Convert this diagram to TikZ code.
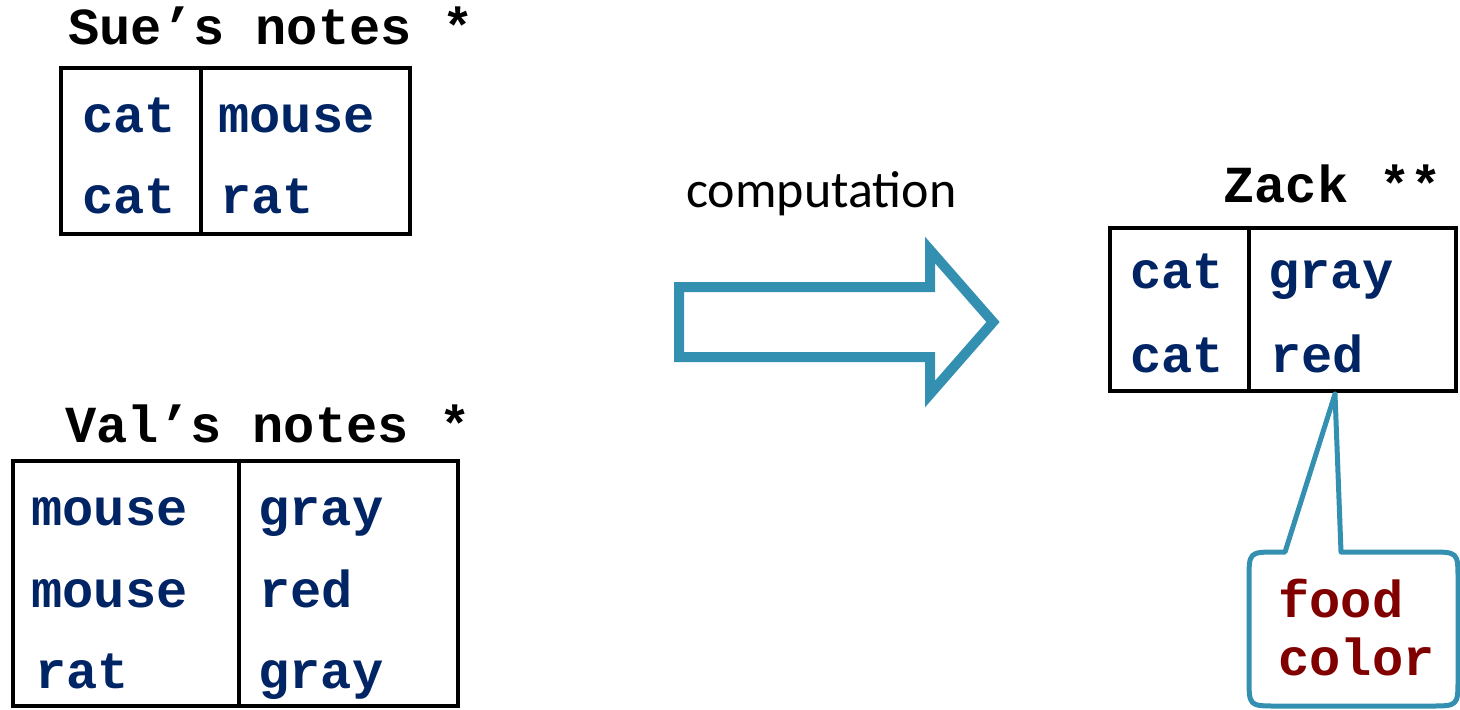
\documentclass[tikz,border=0pt]{standalone}
\usepackage{fontspec}
\newfontfamily\monob{Liberation Mono}[BoldFont=* Bold]
\newfontfamily\calib{Carlito}
\definecolor{cellblue}{RGB}{0,36,100}
\definecolor{notered}{RGB}{128,0,0}
\definecolor{flowteal}{RGB}{52,144,176}
\tikzset{
  title/.style={anchor=base west, inner sep=0pt, font=\monob\bfseries\fontsize{26}{26}\selectfont, text=black},
  cell/.style={anchor=base west, inner sep=0pt, font=\monob\bfseries\fontsize{26}{26}\selectfont, text=cellblue},
  note/.style={anchor=base west, inner sep=0pt, font=\monob\bfseries\fontsize{26}{26}\selectfont, text=notered},
  label/.style={anchor=base west, inner sep=0pt, font=\calib\fontsize{26}{26}\selectfont, text=black},
  grid/.style={draw=black, line width=2.4pt, line join=miter},
  bigarrow/.style={draw=flowteal, line width=5pt, line join=miter, miter limit=10},
  callout/.style={draw=flowteal, line width=2.5pt, line join=round},
}
\begin{document}
\begin{tikzpicture}[x=0.5pt, y=-0.5pt]
\useasboundingbox (0,0) rectangle (1460,709);

% Sue's notes
\node[title] (suet) at (68,44) {Sue’s notes *};
\draw[grid] (61,68) rectangle (410,234);
\draw[grid] (201,68) -- (201,234);
\node[cell] (s11) at (82,132) {cat};
\node[cell] (s12) at (218,132) {mouse};
\node[cell] (s21) at (82,213) {cat};
\node[cell] (s22) at (220,213) {rat};

% Val's notes
\node[title] (valt) at (65,442) {Val’s notes *};
\draw[grid] (13,461) rectangle (458,706);
\draw[grid] (239,461) -- (239,706);
\node[cell] (v11) at (31,525) {mouse};
\node[cell] (v12) at (258,525) {gray};
\node[cell] (v21) at (31,607) {mouse};
\node[cell] (v22) at (259,607) {red};
\node[cell] (v31) at (35,688) {rat};
\node[cell] (v32) at (258,688) {gray};

% computation arrow
\node[label] (comp) at (686,207) {computation};
\draw[bigarrow] (679,287) -- (930,287) -- (930,250) -- (993,322)
  -- (930,394) -- (930,357) -- (679,357) -- cycle;

% Zack
\node[title] (zackt) at (1223,202) {Zack **};
\draw[grid] (1110,228) rectangle (1456,391);
\draw[grid] (1249,228) -- (1249,391);
\node[cell] (z11) at (1130,288) {cat};
\node[cell] (z12) at (1268,288) {gray};
\node[cell] (z21) at (1130,372) {cat};
\node[cell] (z22) at (1270,372) {red};

% callout attached to the right column
\coordinate (tip) at (1335,394);
\draw[callout] (1285,552) -- (tip) -- (1341,552) -- (1430,552)
  .. controls (1458,552) .. (1458,580) -- (1458,678)
  .. controls (1458,706) .. (1430,706) -- (1277,706)
  .. controls (1249,706) .. (1249,678) -- (1249,580)
  .. controls (1249,552) .. (1277,552) -- cycle;
\node[note] (food) at (1278,617) {food};
\node[note] (colr) at (1278,675) {color};
\end{tikzpicture}
\end{document}
